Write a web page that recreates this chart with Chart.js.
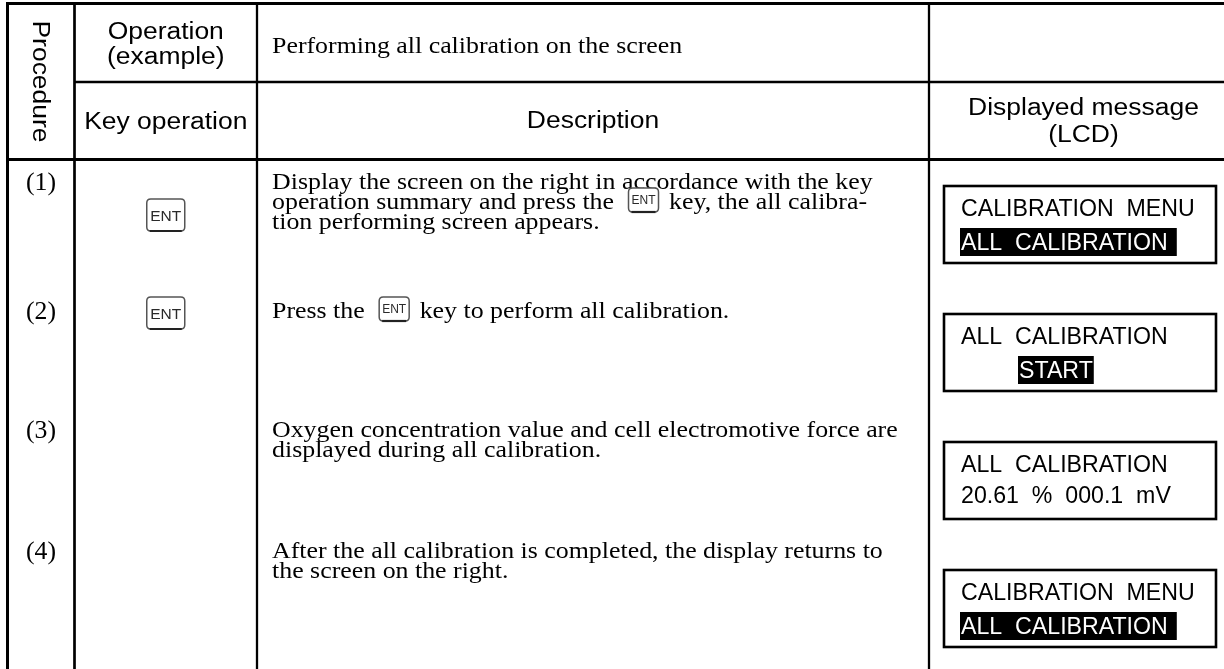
<!DOCTYPE html>
<html>
<head>
<meta charset="utf-8">
<script src="https://cdn.jsdelivr.net/npm/chart.js@4/dist/chart.umd.min.js"></script>
<style>
  html, body { margin: 0; padding: 0; background: #fff; }
  #sheet { display: block; }
</style>
</head>
<body>
<canvas id="sheet" width="1224" height="669"></canvas>
<script>
//============================ TABLE CONTENT ==================================//
const procedureSteps = ['(1)', '(2)', '(3)', '(4)'];
const keyOperations = ['ENT', 'ENT', '', ''];
const descriptions = [
    ['Display the screen on the right in accordance with the key',
     'operation summary and press the [ENT] key, the all calibra-',
     'tion performing screen appears.'],
    ['Press the [ENT] key to perform all calibration.'],
    ['Oxygen concentration value and cell electromotive force are',
     'displayed during all calibration.'],
    ['After the all calibration is completed, the display returns to',
     'the screen on the right.']
];
const lcdTopLines = ['CALIBRATION  MENU', 'ALL  CALIBRATION', 'ALL  CALIBRATION', 'CALIBRATION  MENU'];
const lcdBottomLines = ['ALL  CALIBRATION', '    START', '20.61  %  000.1  mV', 'ALL  CALIBRATION'];
const lcdInverted = [true, true, false, true];

const headProcedure = 'Procedure';
const headOperation = ['Operation', '(example)'];
const headKey = 'Key operation';
const headTitle = 'Performing all calibration on the screen';
const headDescription = 'Description';
const headDisplay = ['Displayed message', '(LCD)'];

//============================ LAYOUT (reference px) ==========================//
const colX = [7.5, 74.5, 257, 929, 1238];
const colLineW = [3, 2.7, 2.3, 2.3];
const topY = 3.5, headMidY = 82, headBotY = 159.5, bottomY = 669;
const rowBase = [189, 318, 437, 558];
const lineGap = 20;
const keyTop = [199, 297];
const lcdTop = [186, 314, 442, 570];
const lcdLeft = 944, lcdRight = 1216, lcdHeight = 77;

const SANS = '"Liberation Sans", Arial, sans-serif';
const SERIF = '"Liberation Serif", "Times New Roman", serif';

//============================ DRAW HELPERS ===================================//
function stretchText(ctx, str, x, y, font, sx, align, color){
    ctx.save();
    ctx.font = font;
    const w = ctx.measureText(str).width * sx;
    let x0 = x;
    if(align === 'center') x0 = x - w / 2;
    if(align === 'right') x0 = x - w;
    ctx.translate(x0, y);
    ctx.scale(sx, 1);
    ctx.textAlign = 'left';
    ctx.textBaseline = 'alphabetic';
    ctx.fillStyle = color || '#000';
    ctx.fillText(str, 0, 0);
    ctx.restore();
    return w;
}

function roundRect(ctx, x, y, w, h, r){
    ctx.beginPath();
    ctx.moveTo(x + r, y);
    ctx.lineTo(x + w - r, y);
    ctx.quadraticCurveTo(x + w, y, x + w, y + r);
    ctx.lineTo(x + w, y + h - r);
    ctx.quadraticCurveTo(x + w, y + h, x + w - r, y + h);
    ctx.lineTo(x + r, y + h);
    ctx.quadraticCurveTo(x, y + h, x, y + h - r);
    ctx.lineTo(x, y + r);
    ctx.quadraticCurveTo(x, y, x + r, y);
    ctx.closePath();
}

function drawKey(ctx, label, x, y, w, h, fontPx){
    ctx.save();
    roundRect(ctx, x, y, w, h, 4);
    ctx.fillStyle = '#fff';
    ctx.fill();
    ctx.lineWidth = 1.5;
    ctx.strokeStyle = '#555';
    ctx.stroke();
    ctx.beginPath();
    ctx.moveTo(x + 3, y + h);
    ctx.lineTo(x + w - 3, y + h);
    ctx.lineWidth = 2.2;
    ctx.strokeStyle = '#222';
    ctx.stroke();
    ctx.restore();
    stretchText(ctx, label, x + w / 2, y + h / 2 + fontPx * 0.36, fontPx + 'px ' + SANS, 1, 'center', '#2a2a2a');
}

function line(ctx, x1, y1, x2, y2, w){
    ctx.beginPath();
    ctx.moveTo(x1, y1);
    ctx.lineTo(x2, y2);
    ctx.lineWidth = w;
    ctx.strokeStyle = '#000';
    ctx.stroke();
}

//============================ TABLE PLUGIN ===================================//
const tablePlugin = {
    id: 'procedureTable',
    afterDatasetsDraw(chart){
        const ctx = chart.ctx;
        const px = v => chart.scales.x.getPixelForValue(v);
        const py = v => chart.scales.y.getPixelForValue(v);
        const right = px(colX[4]);

        ctx.save();
        ctx.lineCap = 'butt';
        // grid
        for(let i = 0; i < 4; i++){
            line(ctx, px(colX[i]), py(topY) - 1.5, px(colX[i]), py(bottomY), colLineW[i]);
        }
        line(ctx, px(colX[0]) - 1.5, py(topY), right, py(topY), 3);
        line(ctx, px(colX[1]), py(headMidY), right, py(headMidY), 2.3);
        line(ctx, px(colX[0]) - 1.5, py(headBotY), right, py(headBotY), 3);

        // header
        const hSans = '23px ' + SANS, hsx = 1.15;
        ctx.save();
        ctx.translate(px((colX[0] + colX[1]) / 2) - 8, py((topY + headBotY) / 2));
        ctx.rotate(Math.PI / 2);
        stretchText(ctx, headProcedure, 0, 0, hSans, hsx, 'center');
        ctx.restore();
        const keyMid = px((colX[1] + colX[2]) / 2);
        stretchText(ctx, headOperation[0], keyMid, py(39), hSans, hsx, 'center');
        stretchText(ctx, headOperation[1], keyMid, py(64), hSans, hsx, 'center');
        stretchText(ctx, headKey, keyMid, py(129), hSans, hsx, 'center');
        const bSerif = '22.5px ' + SERIF, bsx = 1.15;
        stretchText(ctx, headTitle, px(colX[2] + 15), py(53), bSerif, bsx, 'left');
        stretchText(ctx, headDescription, px((colX[2] + colX[3]) / 2), py(128), hSans, hsx, 'center');
        const dispMid = px((colX[3] + colX[4]) / 2);
        stretchText(ctx, headDisplay[0], dispMid, py(115), hSans, hsx, 'center');
        stretchText(ctx, headDisplay[1], dispMid, py(142), hSans, hsx, 'center');

        // body rows
        procedureSteps.forEach(function(step, i){
            stretchText(ctx, step, px((colX[0] + colX[1]) / 2), py(rowBase[i] + 1), '25px ' + SERIF, 1.03, 'center');

            if(keyOperations[i]){
                drawKey(ctx, keyOperations[i], keyMid - 19, py(keyTop[i]), 38, 32, 15.5);
            }

            descriptions[i].forEach(function(text, j){
                const base = py(rowBase[i] + j * lineGap);
                let x = px(colX[2] + 15);
                const parts = text.split('[ENT]');
                parts.forEach(function(part, k){
                    x += stretchText(ctx, part, x, base, bSerif, bsx, 'left');
                    if(k < parts.length - 1){
                        x += 8;
                        drawKey(ctx, 'ENT', x, base - 21, 30, 24, 12);
                        x += 30 + 4;
                    }
                });
            });

            // LCD screen
            const bx = px(lcdLeft), by = py(lcdTop[i]);
            ctx.lineWidth = 2.6;
            ctx.strokeStyle = '#000';
            ctx.strokeRect(bx, by, px(lcdRight) - bx, lcdHeight);
            const lFont = '24px ' + SANS, lsx = 0.965;
            const tx = bx + 17;
            stretchText(ctx, lcdTopLines[i], tx, by + 30, lFont, lsx, 'left');
            const raw = lcdBottomLines[i];
            const indent = raw.length - raw.trimStart().length;
            const txt = raw.trim();
            const x2 = tx + indent * 14.5;
            if(lcdInverted[i]){
                ctx.font = lFont;
                const w = ctx.measureText(txt).width * lsx;
                ctx.fillStyle = '#000';
                ctx.fillRect(x2 - 1, by + 42, w + (indent ? 2 : 10), 28);
                stretchText(ctx, txt, x2, by + 64, lFont, lsx, 'left', '#fff');
            } else {
                stretchText(ctx, txt, x2, by + 61, lFont, lsx, 'left');
            }
        });
        ctx.restore();
    }
};

//============================ CHART ==========================================//
const sheet = document.getElementById('sheet').getContext('2d');
const tableChart = new Chart(sheet, {
    type: 'scatter',
    data: {
        datasets: [{
            label: 'steps',
            data: procedureSteps.map((s, i) => ({x: (colX[0] + colX[1]) / 2, y: rowBase[i]})),
            pointRadius: 0
        }]
    },
    options: {
        responsive: false,
        devicePixelRatio: 1,
        animation: false,
        events: [],
        layout: { padding: 0 },
        plugins: {
            legend: { display: false },
            tooltip: { enabled: false }
        },
        scales: {
            x: { type: 'linear', min: 0, max: 1224, display: false },
            y: { type: 'linear', min: 0, max: 669, reverse: true, display: false }
        }
    },
    plugins: [tablePlugin]
});
</script>
</body>
</html>
